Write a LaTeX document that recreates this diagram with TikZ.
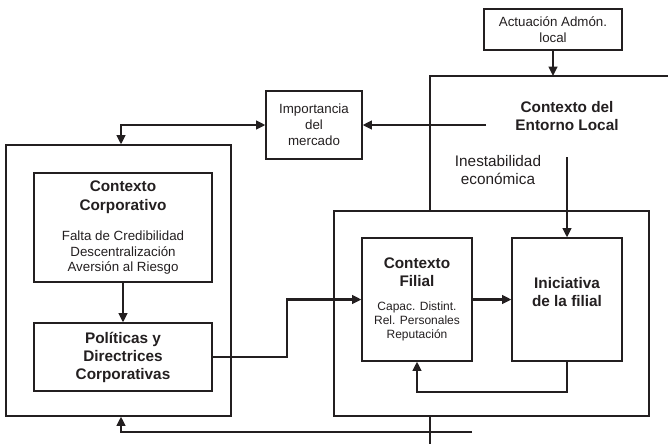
\documentclass[tikz,border=0pt]{standalone}
\usepackage{fontspec}
\setmainfont{Liberation Sans}
\usetikzlibrary{arrows.meta}
\definecolor{ink}{RGB}{35,31,32}
\newcommand\bodytxt{\fontsize{10}{11.6}\selectfont\mdseries}
\newcommand\smalltxt{\fontsize{9}{10.5}\selectfont\mdseries}
\newcommand\titltxt{\fontsize{11.5}{14}\selectfont\bfseries}

\begin{document}
\begin{tikzpicture}[x=0.75pt,y=-0.75pt,
        box/.style={draw=ink,line width=0.9pt,inner sep=0pt,align=center,text=ink},
        sz/.style 2 args={minimum width=#1*0.75pt,minimum height=#2*0.75pt},
        flow/.style={draw=ink,line width=1.6pt,-{Triangle[length=7pt,width=6.5pt]}},
        edge/.style={draw=ink,line width=0.9pt},
        titl/.style={font=\titltxt,text=ink,align=center},
        plain/.style={font=\fontsize{10}{12}\selectfont}]
        \useasboundingbox (0,0) rectangle (668,444);
        \node[box,plain,sz={138}{41}] (actua) at (553,29.5) {Actuación Admón.\\local};
        \node[box,plain,sz={96}{68}] (impor) at (314,125) {Importancia\\del\\mercado};
        \node[titl] (entorno) at (567,116) {Contexto del\\Entorno Local};
        \node[text=ink,align=center,font=\fontsize{11.5}{14}\selectfont] (inest) at (498,170) {Inestabilidad\\económica};
        \node[box,sz={225}{271}] (corpframe) at (118.5,280.5) {};
        \node[box,sz={178}{109},font=\bodytxt] (corp) at (123,227.5)
            {\titltxt Contexto\\[2.6pt]\titltxt Corporativo\\[11pt]Falta de Credibilidad\\Descentralización\\Aversión al Riesgo};
        \node[box,sz={178}{68},font=\fontsize{11.5}{13.5}\selectfont\bfseries] (poli) at (123,357) {Políticas y\\Directrices\\Corporativas};
        \node[box,sz={315}{205}] (filframe) at (491.5,313.5) {};
        \node[box,sz={110}{123},font=\smalltxt] (filial) at (417,299.5)
            {\titltxt Contexto\\[3pt]\titltxt Filial\\[7pt]Capac. Distint.\\Rel. Personales\\Reputación};
        \node[box,sz={110}{123}] (inic) at (567,299.5) {};
        \node[titl] (inictxt) at ([yshift=5.6pt]inic.center) {Iniciativa\\de la filial};
        \draw[edge] (430,211) -- (430,76) -- (668,76);
        \draw[edge] (430,416) -- (430,444);
        \coordinate (entornoN) at (553,76);
        \coordinate (entornoW) at (486,125);
        \coordinate (loopL) at (121,125);
        \coordinate (bend) at (287,357);
        \coordinate (inestS) at (567,157);
        \coordinate (entornoS) at (472,432);
        \coordinate (loopB) at (121,432);
        \draw[flow] (actua) -- (entornoN);
        \draw[flow] (entornoW) -- (impor);
        \draw[flow,{Triangle[length=7pt,width=6.5pt]}-{Triangle[length=7pt,width=6.5pt]}] (corpframe.north -| loopL) -- (loopL) -- (impor);
        \draw[flow] (corp) -- (poli);
        \draw[flow] (poli) -- (bend) |- (filial);
        \draw[flow] (filial) -- (inic);
        \draw[flow] (inestS) -- (inic);
        \draw[flow] (inic.south) -- ++(0,30) -| (filial.south);
        \draw[flow] (entornoS) -- (loopB) -- (corpframe.south -| loopB);
    \end{tikzpicture}
\end{document}
